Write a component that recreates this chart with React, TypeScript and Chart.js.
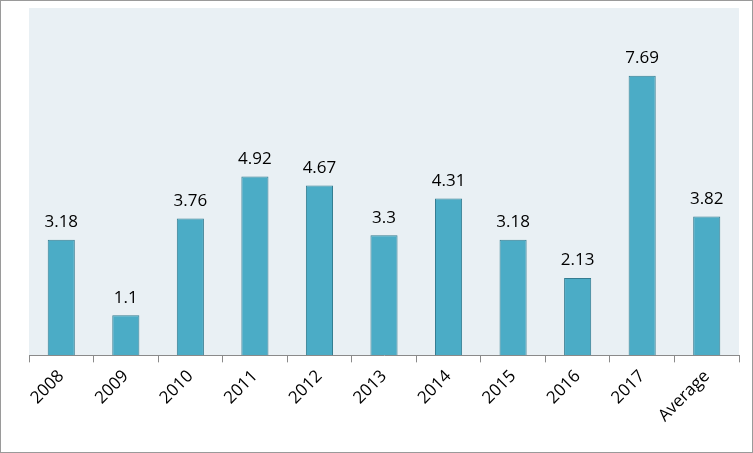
import React, { useEffect, useRef } from "react";
import { Chart, registerables } from "chart.js";
Chart.register(...registerables);

const categories = ["2008","2009","2010","2011","2012","2013","2014","2015","2016","2017","Average"];
const values = [3.18, 1.1, 3.76, 4.92, 4.67, 3.3, 4.31, 3.18, 2.13, 7.69, 3.82];

const bgPlugin = {
  id: "bg",
  beforeDraw(chart: any) {
    const { ctx, chartArea: a } = chart;
    ctx.save();
    ctx.fillStyle = "#e9f0f4";
    ctx.fillRect(a.left, a.top, a.right - a.left, a.bottom - a.top);
    ctx.restore();
  },
  afterDatasetsDraw(chart: any) {
    const { ctx } = chart;
    const meta = chart.getDatasetMeta(0);
    ctx.save();
    ctx.fillStyle = "#000";
    ctx.font = "17px 'Open Sans'";
    ctx.textAlign = "center";
    ctx.textBaseline = "bottom";
    meta.data.forEach((el: any, i: number) => {
      ctx.fillText(String(values[i]), el.x, el.y - 9);
    });
    ctx.restore();
  },
};

export default function App() {
  const ref = useRef<HTMLCanvasElement>(null);
  useEffect(() => {
    document.body.style.margin = "0";
    const chart = new Chart(ref.current!, {
      type: "bar",
      data: {
        labels: categories,
        datasets: [{
          data: values,
          backgroundColor: "#4bacc6",
          borderColor: "#357d91",
          borderWidth: 1,
          barPercentage: 0.42,
          categoryPercentage: 1,
        }],
      },
      options: {
        animation: false,
        responsive: false,
        plugins: { legend: { display: false }, tooltip: { enabled: false } },
        layout: { padding: { left: 28, right: 13, top: 7, bottom: 22 } },
        scales: {
          y: { display: false, min: 0, max: 9.55 },
          x: {
            grid: { offset: true, drawOnChartArea: false, tickLength: 7, color: "#8a8a8a" },
            border: { color: "#8a8a8a", width: 1 },
            ticks: { color: "#000", font: { family: "'Open Sans'", size: 17 }, maxRotation: 45, minRotation: 45, padding: 4 },
          },
        },
      },
      plugins: [bgPlugin],
    });
    return () => chart.destroy();
  }, []);
  return (
    <div style={{ width: 751, height: 451, border: "1px solid #9a9a9a", background: "#fff" }}>
      <canvas ref={ref} width={751} height={451} />
    </div>
  );
}
